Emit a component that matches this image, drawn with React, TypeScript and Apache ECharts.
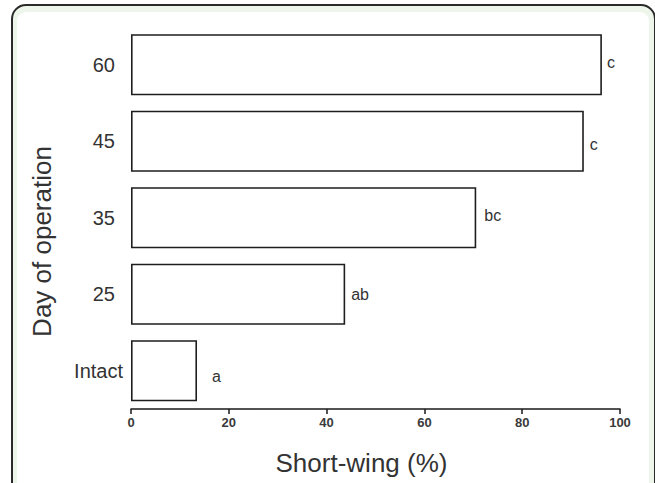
import React, { useEffect, useRef } from "react";
import * as echarts from "echarts";

const categories = ["Intact", "25", "35", "45", "60"];
const shortWingPct = [13.5, 43.8, 70.6, 92.6, 96.3];
const letters = ["a", "ab", "bc", "c", "c"];
const xTicks = [0, 20, 40, 60, 80, 100];
const xTitle = "Short-wing (%)";
const yTitle = "Day of operation";

export default function App() {
  const ref = useRef<HTMLDivElement>(null);
  useEffect(() => {
    document.body.style.margin = "0";
    const chart = echarts.init(ref.current!, null, { renderer: "svg" });
    const font = "'Liberation Sans', Arial, sans-serif";
    // per-bar label tweaks (distance from bar end, vertical shift)
    const labelNudge = [
      { dist: 15, dy: 6 },
      { dist: 6, dy: 0 },
      { dist: 8, dy: -2 },
      { dist: 6, dy: 3 },
      { dist: 5, dy: -2 },
    ];
    const option: any = {
      animation: false,
      backgroundColor: "#ffffff",
      graphic: [
        {
          type: "rect",
          z: -10,
          silent: true,
          shape: { x: 12, y: 5, width: 643, height: 540, r: 14 },
          style: { fill: "#eef5ea", stroke: "#2a2a2a", lineWidth: 2 },
        },
        {
          type: "rect",
          z: -9,
          silent: true,
          shape: { x: 17, y: 12, width: 632, height: 530, r: 9 },
          style: { fill: "#ffffff" },
        },
        {
          type: "text",
          x: 361.5,
          y: 463,
          style: {
            text: xTitle,
            fontFamily: font,
            fontSize: 26,
            fill: "#333333",
            textAlign: "center",
            textVerticalAlign: "middle",
          },
        },
        {
          type: "text",
          x: 42,
          y: 241.5,
          rotation: Math.PI / 2,
          style: {
            text: yTitle,
            fontFamily: font,
            fontSize: 26,
            fill: "#333333",
            textAlign: "center",
            textVerticalAlign: "middle",
          },
        },
      ],
      grid: { left: 131, right: 35, top: 26.5, bottom: 74, containLabel: false },
      xAxis: {
        type: "value",
        min: xTicks[0],
        max: xTicks[xTicks.length - 1],
        interval: xTicks[1] - xTicks[0],
        axisLine: { show: true, lineStyle: { color: "#1a1a1a", width: 1.5 } },
        axisTick: { show: true, length: 5, lineStyle: { color: "#1a1a1a", width: 1.5 } },
        axisLabel: {
          fontFamily: font,
          fontSize: 13,
          fontWeight: "bold",
          color: "#3a3a3a",
          margin: 7,
        },
        splitLine: { show: false },
      },
      yAxis: {
        type: "category",
        data: categories,
        axisLine: { show: false },
        axisTick: { show: false },
        axisLabel: {
          margin: 8,
          formatter: (v: string) => (v === "Intact" ? `{i|${v}}` : `{n|${v}}`),
          rich: {
            i: { fontFamily: font, fontSize: 20, color: "#333333" },
            n: { fontFamily: font, fontSize: 20, color: "#333333", padding: [0, 8, 0, 0] },
          },
        },
      },
      series: [
        {
          type: "bar",
          barCategoryGap: "20%",
          data: shortWingPct.map((v, i) => ({
            value: v,
            label: { distance: labelNudge[i].dist, offset: [0, labelNudge[i].dy] },
          })),
          itemStyle: { color: "#ffffff", borderColor: "#1e1e1e", borderWidth: 1.6 },
          label: {
            show: true,
            position: "right",
            fontFamily: font,
            fontSize: 16,
            color: "#333333",
            formatter: (p: any) => letters[p.dataIndex],
          },
        },
      ],
    };
    chart.setOption(option);
    return () => chart.dispose();
  }, []);
  return (
    <div
      ref={ref}
      style={{ position: "fixed", left: 0, top: 0, width: 655, height: 483 }}
    />
  );
}
